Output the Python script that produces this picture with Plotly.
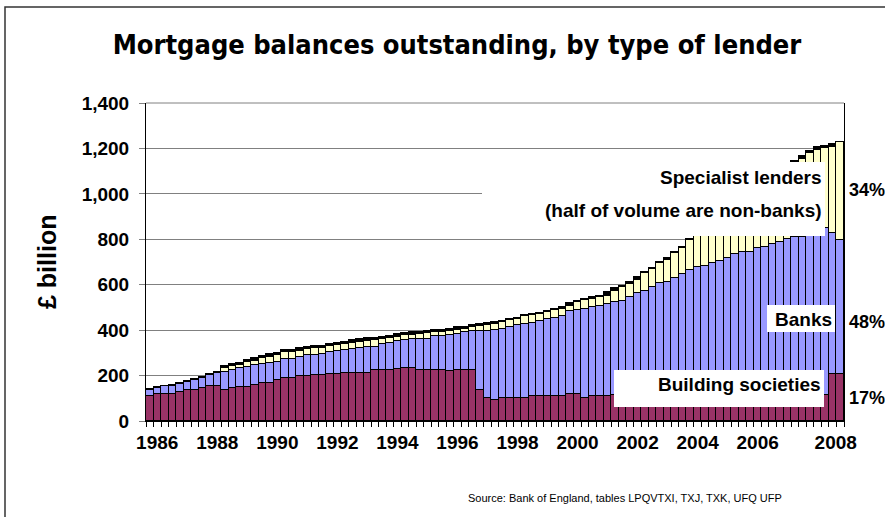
import plotly.graph_objects as go

# Quarterly categories, 1985 Q4 .. 2008 Q4
quarters = [(1985, 4)] + [(y, q) for y in range(1986, 2009) for q in (1, 2, 3, 4)]

# £ billion (values under the white label boxes are estimates)
building_societies = [
    111, 119, 120, 120, 126, 136, 137, 146, 153, 155,
    137, 144, 151, 151, 158, 166, 169, 180, 188, 188,
    198, 198, 202, 204, 205, 205, 212, 212, 211, 211,
    223, 223, 223, 229, 233, 233, 226, 226, 226, 226,
    219, 226, 226, 226, 137, 102, 93, 100, 100, 100,
    100, 112, 112, 112, 112, 112, 120, 120, 102, 111,
    111, 111, 114, 114, 114, 114, 114, 114, 114, 114,
    114, 114, 114, 114, 114, 114, 114, 114, 114, 114,
    114, 114, 114, 114, 114, 114, 114, 114, 114, 114,
    114, 207, 207,
]
banks = [
    25, 25, 32, 33, 36, 35, 43, 43, 50, 56,
    80, 80, 81, 88, 88, 85, 85, 81, 84, 84,
    85, 91, 90, 90, 97, 103, 99, 107, 112, 116,
    104, 115, 122, 123, 122, 127, 137, 137, 149, 149,
    160, 156, 164, 171, 258, 295, 309, 306, 315, 321,
    326, 318, 328, 336, 343, 351, 365, 367, 390, 389,
    396, 403, 408, 415, 430, 448, 459, 477, 492, 499,
    514, 533, 551, 565, 568, 583, 590, 602, 620, 631,
    631, 646, 653, 664, 675, 687, 695, 695, 700, 701,
    737, 619, 590,
]
specialist = [
    2, 1, 1, 1, 1, 1, 2, 2, 3, 2,
    15, 17, 15, 19, 20, 25, 29, 30, 30, 30,
    27, 28, 28, 28, 29, 26, 27, 26, 27, 27,
    30, 24, 20, 20, 22, 20, 21, 24, 15, 17,
    18, 20, 16, 17, 22, 25, 26, 28, 28, 29,
    35, 35, 32, 32, 32, 32, 23, 37, 40, 39,
    38, 38, 52, 62, 61, 57, 77, 78, 88, 98,
    110, 115, 131, 146, 173, 183, 201, 214, 221, 235,
    255, 260, 278, 292, 306, 319, 331, 346, 368, 378,
    353, 382, 430,
]
other = [
    3, 3, 3, 3, 3, 3, 3, 3, 3, 3,
    10, 10, 10, 10, 10, 10, 10, 10, 10, 10,
    10, 10, 10, 10, 10, 10, 10, 10, 10, 10,
    10, 10, 10, 10, 10, 10, 10, 10, 10, 10,
    10, 10, 10, 10, 10, 8, 6, 6, 5, 5,
    5, 5, 5, 5, 5, 5, 12, 5, 5, 5,
    5, 14, 10, 5, 5, 14, 5, 5, 5, 5,
    5, 5, 5, 5, 5, 5, 5, 5, 5, 5,
    5, 5, 5, 5, 5, 5, 5, 12, 8, 12,
    8, 10, 0,
]

year_ticks = [1986, 1988, 1990, 1992, 1994, 1996, 1998, 2000, 2002, 2004, 2006, 2008]
year_tick_pos = [1986, 1988, 1990, 1992, 1994, 1996, 1998, 2000, 2002, 2004, 2006, 2008.6]
y_ticks = [0, 200, 400, 600, 800, 1000, 1200, 1400]

x = [y + (q - 1) / 4 for (y, q) in quarters]
bar_w = 0.25
boundaries = [v - bar_w / 2 for v in x] + [x[-1] + bar_w / 2]

BOLD = "Liberation Sans, Arial, sans-serif"
COND = "DejaVu Sans Condensed, Liberation Sans, Arial, sans-serif"

fig = go.Figure()
series = [
    ("Building societies", building_societies, "#993366"),
    ("Banks", banks, "#9999FF"),
    ("Specialist lenders", specialist, "#FFFFCC"),
    ("Other", other, "#000000"),
]
for name, vals, col in series:
    fig.add_trace(go.Bar(
        x=x, y=vals, name=name, width=bar_w,
        marker=dict(color=col, line=dict(color="black", width=1)),
    ))

W, H = 885, 517
L, R, T, B = 146, 41, 103, 96
pw, ph = W - L - R, H - T - B


def px(X):
    return (X - L) / pw


def py(Y):
    return (H - B - Y) / ph


shapes = [
    dict(type="line", xref="paper", yref="paper", x0=0, x1=1, y0=1, y1=1,
         line=dict(color="#808080", width=1), layer="below"),
    dict(type="rect", xref="paper", yref="paper", x0=px(482), x1=px(825),
         y0=py(236), y1=py(162), fillcolor="white", line=dict(width=0), layer="above"),
    dict(type="rect", xref="paper", yref="paper", x0=px(767), x1=px(835),
         y0=py(332), y1=py(305), fillcolor="white", line=dict(width=0), layer="above"),
    dict(type="rect", xref="paper", yref="paper", x0=px(614), x1=px(824),
         y0=py(407), y1=py(370), fillcolor="white", line=dict(width=0), layer="above"),
    dict(type="rect", xref="paper", yref="paper", x0=px(5), x1=px(900),
         y0=py(530), y1=py(7), fillcolor="rgba(0,0,0,0)",
         line=dict(color="#333333", width=1.5), layer="above"),
]

lab = dict(family=BOLD, size=19, color="black", weight=700)
pct = dict(family=BOLD, size=18, color="black", weight=700)
annotations = [
    dict(text="Specialist lenders", x=px(824), y=py(177), xanchor="right", yanchor="middle", font=lab),
    dict(text="(half of volume are non-banks)", x=px(824), y=py(210), xanchor="right", yanchor="middle", font=lab),
    dict(text="Banks", x=px(834), y=py(319), xanchor="right", yanchor="middle", font=lab),
    dict(text="Building societies", x=px(823), y=py(384), xanchor="right", yanchor="middle", font=lab),
    dict(text="34%", x=px(847), y=py(190), xanchor="left", yanchor="middle", font=pct),
    dict(text="48%", x=px(847), y=py(322), xanchor="left", yanchor="middle", font=pct),
    dict(text="17%", x=px(847), y=py(398), xanchor="left", yanchor="middle", font=pct),
]
for a in annotations:
    a.update(xref="paper", yref="paper", showarrow=False)
annotations += [
    dict(text="£ billion", xref="paper", yref="paper", x=px(47), y=py(262),
         textangle=-90, showarrow=False, xanchor="center", yanchor="middle",
         font=dict(family=BOLD, size=25, color="black", weight=700)),
    dict(text="Source: Bank of England, tables LPQVTXI, TXJ, TXK, UFQ UFP",
         xref="paper", yref="paper", x=px(466), y=py(498), xanchor="left", yanchor="middle",
         showarrow=False, font=dict(family=BOLD, size=11, color="black")),
]

fig.update_layout(
    width=W, height=H,
    margin=dict(l=L, r=R, t=T, b=B, pad=0),
    paper_bgcolor="white", plot_bgcolor="white",
    barmode="stack", bargap=0, showlegend=False,
    title=dict(text="Mortgage balances outstanding, by type of lender",
               x=457 / W, xanchor="center", y=1 - 45 / H, yanchor="middle",
               xref="container", yref="container",
               font=dict(family=COND, size=27, color="black", weight=700)),
    shapes=shapes, annotations=annotations,
)
fig.update_xaxes(
    range=[boundaries[0], boundaries[-1]],
    tickmode="array", tickvals=year_tick_pos, ticktext=[str(v) for v in year_ticks],
    ticks="", showgrid=False, zeroline=False,
    showline=True, linecolor="black", linewidth=1,
    tickfont=dict(family=BOLD, size=19, color="black", weight=700),
    ticklabelstandoff=4,
    minor=dict(tickmode="array", tickvals=boundaries, ticks="outside", ticklen=5,
               tickcolor="black", tickwidth=1, showgrid=False),
)
fig.update_yaxes(
    range=[0, 1400], tickmode="array", tickvals=y_ticks, tickformat=",d",
    ticks="outside", ticklen=6, tickcolor="#808080",
    showgrid=True, gridcolor="#808080", gridwidth=1, zeroline=False,
    showline=True, linecolor="black", linewidth=1, mirror=True,
    tickfont=dict(family=BOLD, size=19, color="black", weight=700),
    ticklabelstandoff=6,
)

fig.write_html(
    "out.html",
    config={"displayModeBar": False},
    post_script="document.body.style.margin='0';document.body.style.overflow='hidden';",
)
